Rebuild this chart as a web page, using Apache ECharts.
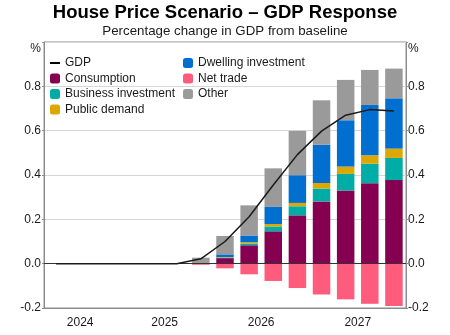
<!DOCTYPE html>
<html>
<head>
<meta charset="utf-8">
<script src="https://cdn.jsdelivr.net/npm/echarts@6/dist/echarts.min.js"></script>
<style>
  html, body { margin: 0; padding: 0; background: #fff; }
  #chart { width: 450px; height: 335px; }
</style>
</head>
<body>
<div id="chart"></div>
<script>
// Quarterly categories, 2024 Q2 to 2027 Q4
const quarters = ['2024 Q2','2024 Q3','2024 Q4','2025 Q1','2025 Q2','2025 Q3','2025 Q4',
                  '2026 Q1','2026 Q2','2026 Q3','2026 Q4','2027 Q1','2027 Q2','2027 Q3','2027 Q4'];

// Contributions to the GDP response, percentage points
const gdp                = [0, 0, 0, 0, 0, 0, 0.022, 0.100, 0.212, 0.355, 0.492, 0.598, 0.670, 0.695, 0.689];
const consumption        = [null, null, null, null, null, null, 0, 0.025, 0.083, 0.146, 0.218, 0.281, 0.330, 0.363, 0.377];
const businessInvestment = [null, null, null, null, null, null, 0, 0.003, 0.008, 0.022, 0.041, 0.058, 0.075, 0.088, 0.100];
const publicDemand       = [null, null, null, null, null, null, 0, 0.002, 0.006, 0.011, 0.015, 0.025, 0.033, 0.038, 0.042];
const dwellingInvestment = [null, null, null, null, null, null, 0, 0.012, 0.030, 0.077, 0.125, 0.172, 0.209, 0.227, 0.227];
const netTrade           = [null, null, null, null, null, null, -0.005, -0.021, -0.048, -0.078, -0.110, -0.139, -0.161, -0.181, -0.191];
const other              = [null, null, null, null, null, null, 0.027, 0.083, 0.136, 0.174, 0.200, 0.201, 0.182, 0.158, 0.134];

// Year labels sit in the middle of each year's quarters
const years = [];
quarters.forEach((q, i) => {
  const y = q.slice(0, 4);
  let entry = years.find(e => e.year === y);
  if (!entry) { entry = { year: y, first: i, last: i }; years.push(entry); }
  entry.last = i;
});
const yearCentre = {};
years.forEach(e => { yearCentre[((e.first + e.last + 1) / 2).toFixed(1)] = e.year; });

const FONT = 'Liberation Sans, Arial, sans-serif';
const TEXT = '#1a1a1a';
const FRAME = '#8c8c8c';

const chart = echarts.init(document.getElementById('chart'), null, { renderer: 'canvas' });

function yLabel(v) {
  if (Math.abs(v - 1) < 1e-9) return '{p|%}';
  return v.toFixed(1);
}

const barSeries = (name, data, color) => ({
  name, type: 'bar', stack: 'contrib', data,
  barWidth: 17.5,
  itemStyle: { color },
  emphasis: { disabled: true },
  z: 2
});

const legendText = { fontFamily: FONT, fontSize: 12, color: TEXT, lineHeight: 12 };

chart.setOption({
  animation: false,
  textStyle: { fontFamily: FONT },
  title: [
    {
      text: 'House Price Scenario \u2013 GDP Response',
      left: 'center', top: 3, padding: 0,
      textStyle: { fontFamily: FONT, fontSize: 18.5, fontWeight: 'bold', color: '#000' }
    },
    {
      text: 'Percentage change in GDP from baseline',
      left: 'center', top: 24.5, padding: 0,
      textStyle: { fontFamily: FONT, fontSize: 13.3, fontWeight: 'normal', color: TEXT }
    }
  ],
  legend: [
    {
      orient: 'vertical', left: 50, top: 57, padding: 0,
      itemWidth: 10, itemHeight: 10, itemGap: 3.5,
      symbolKeepAspect: true,
      textStyle: legendText,
      data: [
        { name: 'GDP', icon: 'path://M0,0 L10,0 L10,2 L0,2 Z', itemStyle: { color: '#000' } },
        'Consumption', 'Business investment', 'Public demand'
      ],
      selectedMode: false
    },
    {
      orient: 'vertical', left: 183, top: 57, padding: 0,
      itemWidth: 10, itemHeight: 10, itemGap: 3.5,
      textStyle: legendText,
      data: ['Dwelling investment', 'Net trade', 'Other'],
      selectedMode: false
    }
  ],
  grid: {
    left: 44, right: 44, top: 42, bottom: 27,
    show: true, borderColor: FRAME, borderWidth: 1, backgroundColor: 'transparent'
  },
  xAxis: [
    {
      type: 'category', data: quarters, boundaryGap: true,
      axisLine: { onZero: false, lineStyle: { color: FRAME } },
      axisTick: {
        inside: true, length: 5, lineStyle: { color: FRAME },
        interval: (i) => quarters[i].endsWith('Q1')
      },
      axisLabel: { show: false },
      splitLine: { show: false }
    },
    {
      type: 'value', min: 0, max: quarters.length, interval: 0.5,
      position: 'bottom',
      axisLine: { show: false }, axisTick: { show: false }, splitLine: { show: false },
      axisLabel: {
        margin: 9, fontSize: 12, color: TEXT, fontFamily: FONT,
        showMinLabel: true, showMaxLabel: true,
        formatter: (v) => yearCentre[v.toFixed(1)] || ''
      }
    }
  ],
  yAxis: [
    {
      type: 'value', min: -0.2, max: 1.0, interval: 0.2, position: 'left',
      axisLine: { show: true, lineStyle: { color: FRAME } },
      axisTick: { show: true, length: 2, lineStyle: { color: FRAME } },
      axisLabel: {
        margin: 3, fontSize: 12, color: TEXT, fontFamily: FONT, formatter: yLabel,
        rich: { p: { fontSize: 12, color: TEXT, fontFamily: FONT, padding: [14, 0, 0, 0] } }
      },
      splitLine: { show: true, lineStyle: { color: '#d6d6d6', width: 1 } }
    },
    {
      type: 'value', min: -0.2, max: 1.0, interval: 0.2, position: 'right',
      axisLine: { show: true, lineStyle: { color: FRAME } },
      axisTick: { show: true, length: 2, lineStyle: { color: FRAME } },
      axisLabel: {
        margin: 2, fontSize: 12, color: TEXT, fontFamily: FONT, formatter: yLabel,
        rich: { p: { fontSize: 12, color: TEXT, fontFamily: FONT, padding: [14, 0, 0, 0] } }
      },
      splitLine: { show: false }
    }
  ],
  series: [
    barSeries('Consumption', consumption, '#850050'),
    barSeries('Business investment', businessInvestment, '#00ADA6'),
    barSeries('Public demand', publicDemand, '#DCA800'),
    barSeries('Dwelling investment', dwellingInvestment, '#006FD0'),
    barSeries('Net trade', netTrade, '#FF5C7D'),
    barSeries('Other', other, '#9A9A9A'),
    {
      name: 'GDP', type: 'line', data: gdp,
      symbol: 'none', z: 5,
      lineStyle: { color: '#1a1a1a', width: 1.5 },
      itemStyle: { color: '#000' },
      emphasis: { disabled: true },
      markLine: {
        silent: true, symbol: 'none', label: { show: false },
        lineStyle: { color: '#333', width: 1, type: 'solid' },
        data: [{ yAxis: 0 }]
      }
    }
  ]
});
</script>
</body>
</html>
